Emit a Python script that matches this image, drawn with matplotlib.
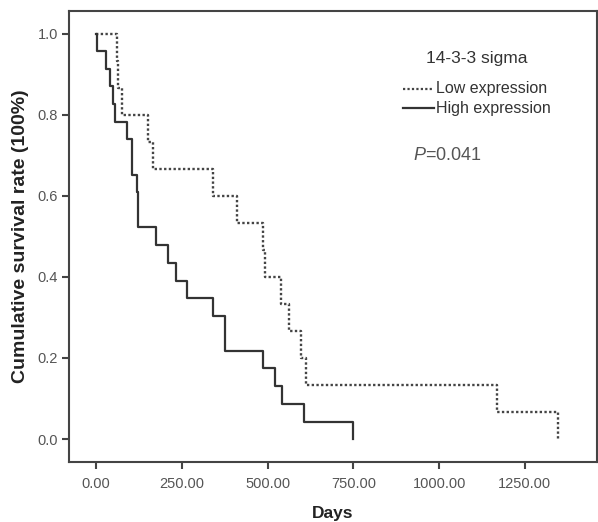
import matplotlib
matplotlib.use("Agg")
import matplotlib.pyplot as plt
from matplotlib.lines import Line2D

plt.rcParams['font.family'] = ['Liberation Sans', 'DejaVu Sans']
plt.rcParams['mathtext.fontset'] = 'custom'
plt.rcParams['mathtext.it'] = 'Liberation Sans:italic'
plt.rcParams['mathtext.rm'] = 'Liberation Sans'

# Kaplan-Meier steps (days, survival)
low_days = [0, 60, 64, 75, 152, 167, 342, 410, 486, 493, 538, 561, 597, 612, 1170, 1348]
low_surv = [1.0, 0.933, 0.867, 0.8, 0.733, 0.667, 0.6, 0.533, 0.467, 0.4,
            0.333, 0.267, 0.2, 0.133, 0.067, 0.0]

high_days = [0, 2, 29, 41, 49, 55, 89, 104, 119, 123, 175, 209, 233, 264,
             340, 376, 488, 522, 541, 606, 750]
high_surv = [1.0, 0.957, 0.913, 0.870, 0.826, 0.783, 0.739, 0.652, 0.609, 0.522,
             0.478, 0.435, 0.391, 0.348, 0.304, 0.217, 0.174, 0.130, 0.087, 0.043, 0.0]

x_ticks = [0, 250, 500, 750, 1000, 1250]
y_ticks = [0.0, 0.2, 0.4, 0.6, 0.8, 1.0]
labels = ['Low expression', 'High expression']

W, H = 598, 522
fig = plt.figure(figsize=(W / 100, H / 100), dpi=100)
ax = fig.add_axes([69 / W, 1 - 461.7 / H, (596.5 - 69) / W, (461.7 - 11) / H])

dotted = (0, (1, 1))
ax.step(low_days, low_surv, where='post', color='#444444', lw=1.7, linestyle=dotted)
ax.step(high_days, high_surv, where='post', color='#333333', lw=1.6)

ax.set_xlim(-79, 1459)
ax.set_ylim(-0.056, 1.056)
ax.set_xticks(x_ticks)
ax.set_xticklabels(['%.2f' % t for t in x_ticks])
ax.set_yticks(y_ticks)
ax.set_yticklabels(['%.1f' % t for t in y_ticks])
ax.tick_params(direction='out', length=5, width=1.5, colors='#444444',
               labelsize=10.5, labelcolor='#555555')
ax.tick_params(axis='x', pad=6)
ax.tick_params(axis='y', pad=3)
for s in ax.spines.values():
    s.set_color('#444444')
    s.set_linewidth(1.5)

ax.set_xlabel('Days', fontsize=12.5, fontweight='bold', color='#222222', labelpad=11)
ax.set_ylabel('Cumulative survival rate (100%)', fontsize=14, fontweight='bold',
              color='#222222', labelpad=6)

# legend block, placed by hand
fig.text(477 / W, 1 - 59 / H, '14-3-3 sigma', fontsize=12.5, color='#333333',
         ha='center', va='center')
for lab, yy, ls, c in zip(labels, [89, 108], [dotted, '-'], ['#444444', '#333333']):
    fig.add_artist(Line2D([403 / W, 434 / W], [1 - yy / H, 1 - yy / H],
                          transform=fig.transFigure, color=c, lw=1.6, linestyle=ls))
    fig.text(436 / W, 1 - yy / H, lab, fontsize=11.5, color='#333333',
             ha='left', va='center')

fig.text(413 / W, 1 - 155 / H, r'$\it{P}$=0.041', fontsize=13,
         color='#555555', va='center', ha='left')

fig.savefig('out.png', dpi=100)
